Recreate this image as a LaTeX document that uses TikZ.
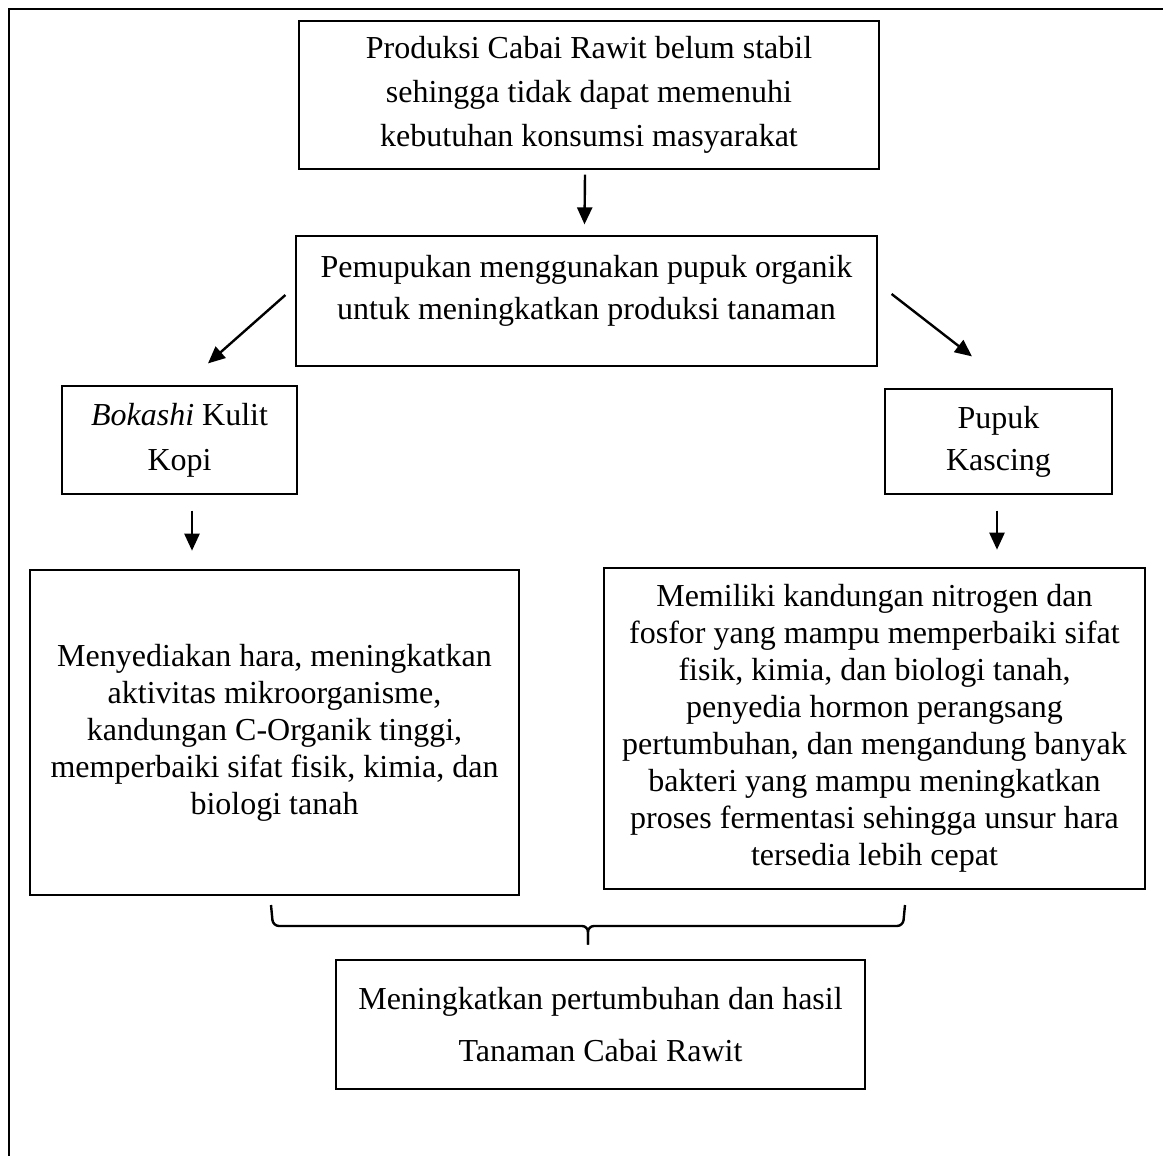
\documentclass[tikz,border=0pt]{standalone}
\usepackage{fontspec}
\setmainfont{Liberation Serif}
\usetikzlibrary{arrows.meta, calc}

\begin{document}
\begin{tikzpicture}[
    x=0.5pt, y=-0.5pt,
    block/.style={rectangle, draw, line width=0.6pt, align=center, inner sep=0pt, font=\fontsize{16}{21}\selectfont},
    bigblock/.style={block, line width=1.3pt, font=\fontsize{16}{18.5}\selectfont},
    arrow/.style={-{Triangle[length=8.5pt, width=7.5pt]}, line width=1.2pt}
]
\useasboundingbox (0,0) rectangle (1163,1156);
% page frame
\draw[line width=0.7pt] (1163,9) -- (9,9) -- (9,1156);

\node[block, minimum width=290pt, minimum height=74pt, font=\fontsize{16}{22}\selectfont] (problem) at (589,95) {Produksi Cabai Rawit belum stabil\\sehingga tidak dapat memenuhi\\kebutuhan konsumsi masyarakat};
\node[block, minimum width=290.5pt, minimum height=65pt, text depth=14pt] (fertilize) at (586.5,301) {Pemupukan menggunakan pupuk organik\\untuk meningkatkan produksi tanaman};
\node[block, minimum width=117.5pt, minimum height=54pt, font=\fontsize{16}{22.5}\selectfont] (bokashi) at (179.5,440) {\textit{Bokashi} Kulit\\Kopi};
\node[block, minimum width=113.5pt, minimum height=52.5pt] (kascing) at (998.5,441.5) {Pupuk\\Kascing};
\node[bigblock, minimum width=244.5pt, minimum height=162.5pt] (bokashiben) at (274.5,732.5) {Menyediakan hara, meningkatkan\\aktivitas mikroorganisme,\\kandungan C-Organik tinggi,\\memperbaiki sifat fisik, kimia, dan\\biologi tanah};
\node[bigblock, minimum width=270.5pt, minimum height=160.5pt] (kascingben) at (874.5,728.5) {Memiliki kandungan nitrogen dan\\fosfor yang mampu memperbaiki sifat\\fisik, kimia, dan biologi tanah,\\penyedia hormon perangsang\\pertumbuhan, dan mengandung banyak\\bakteri yang mampu meningkatkan\\proses fermentasi sehingga unsur hara\\tersedia lebih cepat};
\node[bigblock, minimum width=264.5pt, minimum height=64.5pt, font=\fontsize{16}{26}\selectfont] (result) at (600.5,1024.5) {Meningkatkan pertumbuhan dan hasil\\Tanaman Cabai Rawit};

\draw[arrow] ($(problem.south)+(-4,5)$) -- ($(fertilize.north)+(-2,-11)$);
\draw[arrow] ($(fertilize.west)+(-10,-6)$) -- ($(bokashi.north)+(28.5,-22)$);
\draw[arrow] ($(fertilize.east)+(14,-7)$) -- ($(kascing.north)+(-26.5,-32)$);
\draw[arrow] ($(bokashi.south)+(12.5,16)$) -- ($(bokashiben.north)+(-82.5,-18)$);
\draw[arrow] ($(kascing.south)+(-1.5,16)$) -- ($(kascingben.north)+(122.5,-17)$);

% brace
\coordinate (braceL) at (271,905);
\coordinate (braceR) at (905,905);
\coordinate (braceTip) at ($(result.north)+(-12.5,-14)$);
\draw[line width=1.2pt, rounded corners=3pt] (braceL) -- ($(braceL)+(2,21)$) -| (braceTip);
\draw[line width=1.2pt, rounded corners=3pt] (braceR) -- ($(braceR)+(-2,21)$) -| (braceTip);
\end{tikzpicture}
\end{document}
